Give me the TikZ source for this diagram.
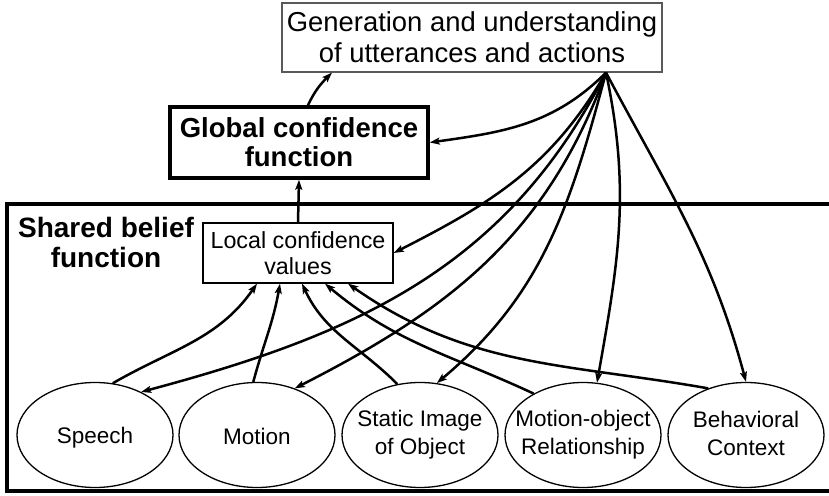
\documentclass[tikz,border=0pt]{standalone}
\usepackage{fontspec}
\setmainfont{Liberation Sans}
\usetikzlibrary{arrows.meta, calc, shapes.geometric}

\newcommand\ovalstrut{\rule[-4pt]{0pt}{26pt}}

\begin{document}
\begin{tikzpicture}[x=1pt, y=1pt,
	arr/.style={line width=2.5pt, -{Stealth[length=10pt, width=7pt, inset=2pt]}},
	box/.style={draw, rectangle, inner sep=0pt, align=center},
	oval/.style={draw, ellipse, line width=1.3pt, inner sep=-25pt, align=center,
		minimum width=156pt, minimum height=105pt,
		font=\fontsize{22.5}{28}\selectfont,
		execute at begin node=\ovalstrut, execute at end node=\ovalstrut}]
	\useasboundingbox (0,0) rectangle (829,495);
	
	% shared belief frame, open to the right
	\draw[line width=3.5pt] (829,291) -- (7,291) -- (7,4) -- (829,4);
	\node[align=center, font=\bfseries\fontsize{28}{30}\selectfont] (shared) at (106,253) {Shared belief\\function};
	
	\node[box, draw=black!65, line width=1.2pt, minimum width=380pt, minimum height=69pt,
		font=\fontsize{27.4}{31}\selectfont] (gen) at (472,457.5) {Generation and understanding\\of utterances and actions};
	\node[box, line width=3.5pt, minimum width=258pt, minimum height=71pt,
		font=\bfseries\fontsize{27.5}{29}\selectfont] (global) at (299,352.5) {Global confidence\\function};
	\node[box, line width=1.3pt, minimum width=190pt, minimum height=60pt,
		font=\fontsize{23.3}{26.5}\selectfont] (local) at (298,242) {Local confidence\\values};
	
	\node[oval] (speech) at (95,60) {Speech};
	\node[oval] (motion) at (257,60) {Motion};
	\node[oval] (static) at (420,60) {Static Image\\of Object};
	\node[oval] (mobj) at (583,60) {Motion-object\\Relationship};
	\node[oval] (behav) at (746,60) {Behavioral\\Context};
	
	\draw[arr] (local.north) -- (global.south);
	\draw[arr] ([xshift=9pt]global.north) to[out=65, in=225] ([xshift=-140pt]gen.south);
	
	% cues -> local confidence
	\foreach \src/\ang/\dx/\o/\i in {speech/71/-41/30/235, motion/94/-18/75/260,
		static/114/4/135/295, mobj/140/27/155/320, behav/129/50/170/325}
		\draw[arr] (\src.\ang) to[out=\o, in=\i] ([xshift=\dx pt]local.south);
	
	% fan out of the top box
	\coordinate (hub) at ([xshift=134pt]gen.south);
	\draw[arr] (hub) to[out=225, in=8] (global.east);
	\draw[arr] (hub) to[out=240, in=27] (local.east);
	\draw[arr] (hub) to[out=243, in=15] (speech.43);
	\draw[arr] (hub) to[out=250, in=27] (motion.51);
	\draw[arr] (hub) to[out=255, in=40] (static.72);
	\draw[arr] (hub) to[out=282, in=80] (mobj.75);
	\draw[arr] (hub) to[out=298, in=105] (behav.north);
	
\end{tikzpicture}
\end{document}
